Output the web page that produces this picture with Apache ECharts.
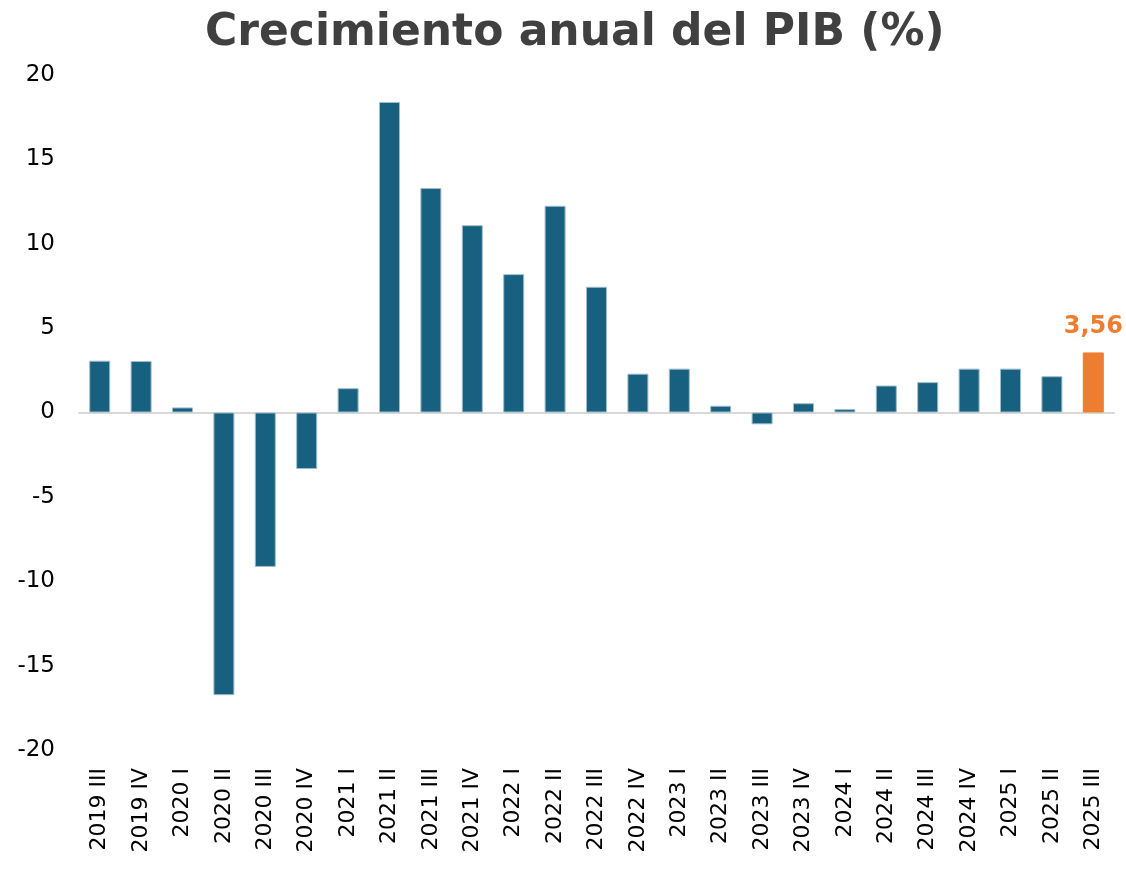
<!DOCTYPE html>
<html>
<head>
<meta charset="utf-8">
<script src="https://cdn.jsdelivr.net/npm/echarts@6/dist/echarts.min.js"></script>
<style>
  html, body { margin: 0; padding: 0; background: #fff; }
  #chart { width: 1126px; height: 869px; }
</style>
</head>
<body>
<div id="chart"></div>
<script>
// trimestres
var quarters = ['2019 III', '2019 IV', '2020 I', '2020 II', '2020 III', '2020 IV',
  '2021 I', '2021 II', '2021 III', '2021 IV', '2022 I', '2022 II', '2022 III', '2022 IV',
  '2023 I', '2023 II', '2023 III', '2023 IV', '2024 I', '2024 II', '2024 III', '2024 IV',
  '2025 I', '2025 II', '2025 III'];
// crecimiento anual (%)
var growth = [3.07, 3.05, 0.3, -16.75, -9.15, -3.35,
  1.44, 18.4, 13.3, 11.1, 8.2, 12.25, 7.45, 2.3,
  2.6, 0.4, -0.7, 0.55, 0.2, 1.6, 1.8, 2.6,
  2.6, 2.15, 3.56];
var yTicks = { min: -20, max: 20, step: 5 };

var blue = '#17607f';
var orange = '#ed7d31';
var lastIdx = growth.length - 1;

var barData = growth.map(function (v, i) {
  if (i === lastIdx) {
    return {
      value: v,
      itemStyle: { color: orange, borderColor: orange },
      label: {
        show: true,
        position: 'top',
        distance: 14,
        color: orange,
        fontWeight: 'bold',
        fontSize: 24,
        fontFamily: 'DejaVu Sans',
        formatter: function (p) { return String(p.value).replace('.', ','); }
      }
    };
  }
  return v;
});

var myChart = echarts.init(document.getElementById('chart'));
myChart.setOption({
  animation: false,
  title: {
    text: 'Crecimiento anual del PIB (%)',
    left: 200,
    top: 7,
    textStyle: {
      fontFamily: 'DejaVu Sans',
      fontWeight: 'bold',
      fontSize: 44,
      color: '#404040'
    }
  },
  grid: {
    left: 79,
    right: 12,
    top: 75,
    bottom: 119
  },
  xAxis: {
    type: 'category',
    data: quarters,
    axisLine: { onZero: true, lineStyle: { color: '#d9d9d9', width: 2 } },
    axisTick: { show: false },
    axisLabel: {
      rotate: 90,
      interval: 0,
      margin: 18,
      color: '#000',
      fontSize: 22,
      fontFamily: 'DejaVu Sans'
    }
  },
  yAxis: {
    type: 'value',
    min: yTicks.min,
    max: yTicks.max,
    interval: yTicks.step,
    axisLine: { show: false },
    axisTick: { show: false },
    splitLine: { show: false },
    axisLabel: {
      margin: 24,
      color: '#000',
      fontSize: 23,
      fontFamily: 'DejaVu Sans'
    }
  },
  series: [{
    type: 'bar',
    data: barData,
    barWidth: 21,
    itemStyle: { color: blue, borderColor: '#9fbccb', borderWidth: 1 }
  }]
});
</script>
</body>
</html>
